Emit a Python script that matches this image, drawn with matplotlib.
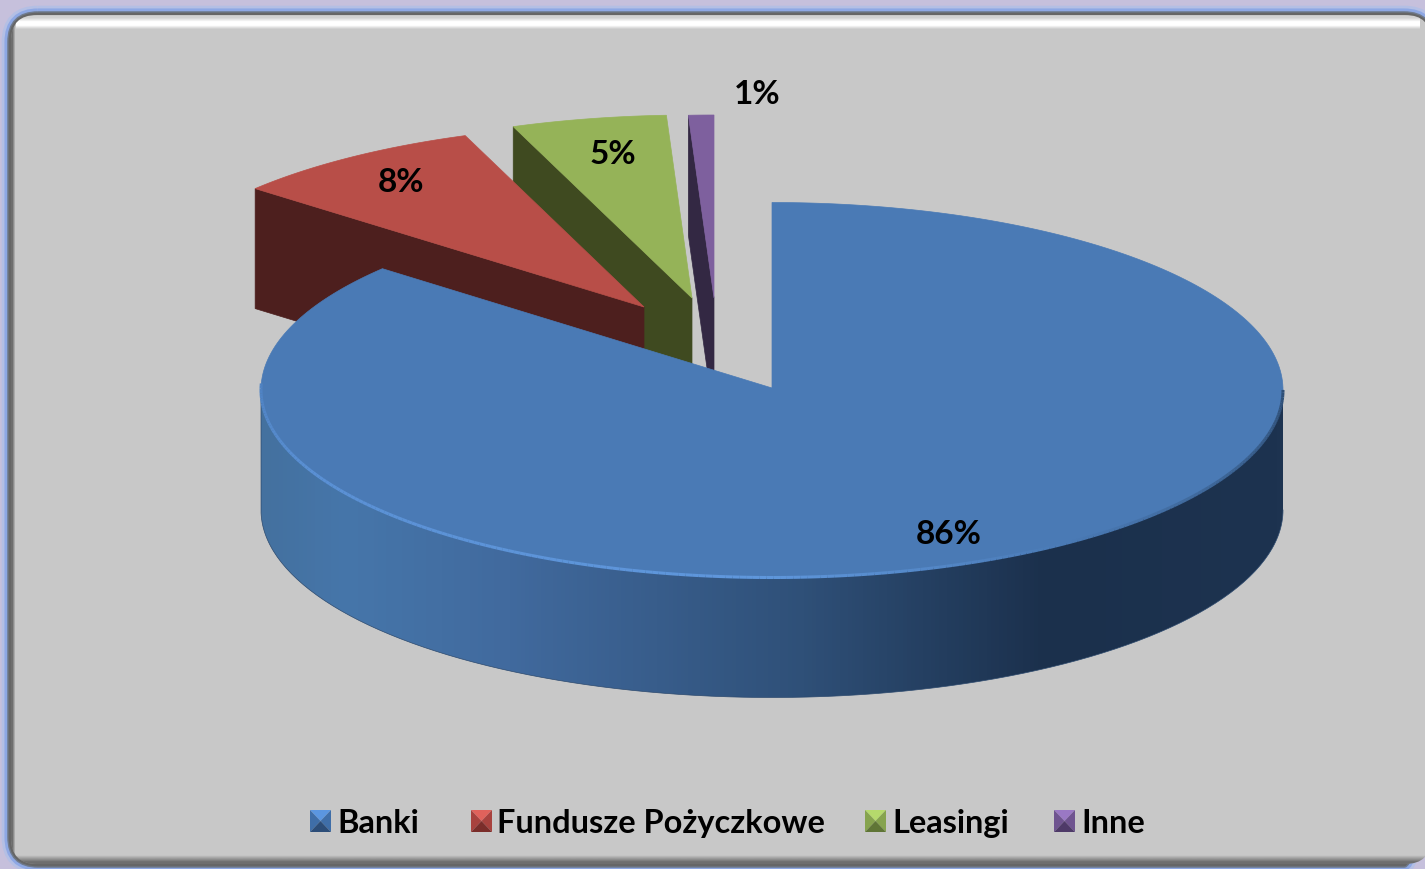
import numpy as np
import matplotlib
matplotlib.use('Agg')
import matplotlib.pyplot as plt
from matplotlib.collections import LineCollection
from matplotlib.colors import LinearSegmentedColormap
from matplotlib.patches import FancyBboxPatch, Polygon

categories = ['Banki', 'Fundusze Pożyczkowe', 'Leasingi', 'Inne']
shares = [86.2, 8.1, 4.9, 0.8]

top_colors = ['#4a7ab5', '#b84e48', '#95b358', '#7e609e']
side_colors = ['#3f6a9e', '#4d1f1e', '#3f4a20', '#332843']
# piramidka w legendzie: gora, lewo/prawo, dol
bevel_colors = [('#5b96e0', '#3f6ea8', '#2c4d78'),
                ('#e0625b', '#a8423e', '#7a2d2a'),
                ('#b5d96c', '#86a34e', '#5f7536'),
                ('#9a78c4', '#6f5490', '#4e3a68')]

# uklad w pikselach obrazka
centers = [(772, 390), (644, 307), (692, 298), (714, 298)]
radii = [(511, 187.5), (510, 183), (510, 183), (510, 183)]
depth = 120
label_pos = [(949, 535), (401, 183), (613, 154), (757, 95)]
legend_text_x = [337, 497, 892, 1081]
legend_box_x = [310, 471, 865, 1054]
legend_y = 821

fig = plt.figure(figsize=(14.25, 8.69), dpi=100, facecolor='#c6c0dc')
ax = fig.add_axes([0, 0, 1, 1])


def ell(i, ang):
    # kat liczony od godziny 12 w prawo
    cx, cy = centers[i]
    rx, ry = radii[i]
    a = np.radians(ang)
    return np.column_stack([cx + rx * np.sin(a), cy - ry * np.cos(a)])


def gradient(arr, extent, cmap, clip, z):
    im = ax.imshow(arr, extent=extent, cmap=cmap, aspect='auto', zorder=z,
                   vmin=0, vmax=1, interpolation='bilinear')
    im.set_clip_path(clip)


# ramka
for lw, col in [(12, '#b4bfe4'), (8, '#8ea8e4'), (4, '#6f7a8c'), (2, '#666666')]:
    ax.add_patch(FancyBboxPatch((10, 14), 1422, 851, boxstyle='round,pad=0,rounding_size=28',
                                fc='none', ec=col, lw=lw, zorder=1))
panel = FancyBboxPatch((11, 15), 1420, 849, boxstyle='round,pad=0,rounding_size=26',
                       fc='#c8c8c8', ec='none', zorder=2)
ax.add_patch(panel)

# jasny pasek u gory, cienie przy krawedziach
white = LinearSegmentedColormap.from_list('w', [(1, 1, 1, 0), (1, 1, 1, 1)])
black = LinearSegmentedColormap.from_list('k', [(0, 0, 0, 0), (0, 0, 0, 0.45)])
gradient(np.array([[0.2], [1.0], [1.0], [0.0]]), (16, 1420, 31, 16), white, panel, 3)
gradient(np.array([[1.0, 0.0]]), (11, 17, 869, 0), black, panel, 3)
gradient(np.array([[0.0], [1.0]]), (11, 1431, 865, 852), black, panel, 3)

# plasterki: od tylu do przodu
ends = np.cumsum(shares) * 3.6
starts = ends - np.array(shares) * 3.6
for i in [3, 2, 1]:
    cx, cy = centers[i]
    arc = ell(i, np.linspace(starts[i], ends[i], 40))
    left = arc[0]
    wall = [left, (cx, cy), (cx, cy + depth), (left[0], left[1] + depth)]
    ax.add_patch(Polygon(wall, fc=side_colors[i], ec=side_colors[i], lw=0.5, zorder=5))
    top = np.vstack([[cx, cy], arc])
    ax.add_patch(Polygon(top, fc=top_colors[i], ec=top_colors[i], lw=0.5, zorder=5))

# Banki: bok z gradientem
arc_low = ell(0, np.linspace(90, 270, 200))
side = np.vstack([arc_low, (arc_low + [0, depth])[::-1]])
side_patch = Polygon(side, fc='none', ec='none', zorder=6)
ax.add_patch(side_patch)
side_cmap = LinearSegmentedColormap.from_list('bok', [(0.0, '#44719f'), (0.08, '#4676aa'),
                                                     (0.24, '#416a9e'), (0.53, '#2f5078'),
                                                     (0.77, '#1b304c'), (1.0, '#1d3350')])
gradient(np.linspace(0, 1, 256).reshape(1, -1), (261, 1283, 720, 380), side_cmap, side_patch, 6)
ax.plot(side[:, 0], side[:, 1], color='#2d4a6e', lw=0.5, zorder=6)

# Banki: wierzch
arc = ell(0, np.linspace(starts[0], ends[0], 300))
cx, cy = centers[0]
ax.add_patch(Polygon(np.vstack([[cx, cy - 2], arc]), fc=top_colors[0], ec=top_colors[0],
                     lw=0.5, zorder=7))

# obwodka: ciemna z prawej, jasna z przodu i z lewej
rim_angles = np.linspace(90, 272, 240)
rim = ell(0, rim_angles)
segments = np.stack([rim[:-1], rim[1:]], axis=1)
rim_cmap = LinearSegmentedColormap.from_list('rim', [(0.0, '#2f4f76'), (0.3, '#4a7ab5'),
                                                    (0.5, '#5f97dc'), (0.85, '#5a90d4'),
                                                    (1.0, '#4f82c2')])
rim_lines = LineCollection(segments, cmap=rim_cmap, lw=2.2, zorder=8)
rim_lines.set_array((rim_angles[:-1] - 90) / 182)
rim_lines.set_clim(0, 1)
ax.add_collection(rim_lines)

# etykiety
for v, (x, y) in zip(shares, label_pos):
    ax.text(x, y, f'{v:.0f}%', ha='center', va='center', family='Lato', weight='bold',
            fontsize=24, color='black', zorder=10)

# legenda
for name, tx, bx, (c_top, c_mid, c_low) in zip(categories, legend_text_x, legend_box_x,
                                               bevel_colors):
    x0, x1, y0, y1 = bx, bx + 21, legend_y - 11, legend_y + 11
    mx, my = bx + 10.5, legend_y
    ax.add_patch(Polygon([(x0, y0), (x1, y0), (mx, my)], fc=c_top, ec='none', zorder=9))
    ax.add_patch(Polygon([(x0, y0), (x0, y1), (mx, my)], fc=c_mid, ec='none', zorder=9))
    ax.add_patch(Polygon([(x1, y0), (x1, y1), (mx, my)], fc=c_mid, ec='none', zorder=9))
    ax.add_patch(Polygon([(x0, y1), (x1, y1), (mx, my)], fc=c_low, ec='none', zorder=9))
    ax.text(tx, legend_y + 2.5, name, ha='left', va='center', family='Lato', weight='bold',
            fontsize=23.4, color='black', zorder=10)

ax.set_xlim(0, 1425)
ax.set_ylim(869, 0)
ax.axis('off')
plt.savefig('out.png', dpi=100, facecolor=fig.get_facecolor())
plt.close()
